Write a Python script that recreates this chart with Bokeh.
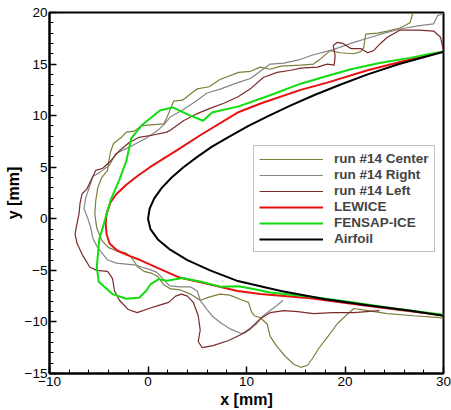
from bokeh.plotting import figure
from bokeh.models import Range1d, SingleIntervalTicker
from bokeh.embed import file_html
from bokeh.resources import INLINE

# ---- data (mm) ----
center_pts = [(26.9,20.0),(26.6,19.0),(25.6,18.5),(24.3,18.2),(23.3,18.0),(22.1,17.9),(21.9,16.6),(21.6,16.2),
              (20.9,16.0),(19.5,16.1),(18.5,16.3),(17.5,15.5),(16.8,15.0),(15.5,14.9),(13.5,14.8),(12.4,14.5),
              (11.4,14.7),(10.4,14.3),(9.2,14.2),(7.3,13.5),(6.2,12.8),(5.0,12.6),(3.5,11.5),(2.6,11.4),(2.0,10.0),
              (1.6,9.2),(0.3,9.1),(-0.7,9.0),(-1.4,8.5),(-2.2,8.4),(-2.7,7.9),(-3.5,7.3),(-3.8,6.5),(-4.0,5.5),
              (-4.1,4.7),(-4.7,4.0),(-5.1,3.0),(-5.3,1.8),(-5.4,0.5),(-5.2,-0.9),(-4.7,-2.1),(-4.0,-2.8),
              (-3.2,-3.1),(-2.3,-3.3),(-1.7,-3.7),(-1.1,-4.6),(-0.4,-5.1),(0.4,-5.3),(1.0,-5.6),(1.6,-6.4),
              (2.3,-6.8),(3.3,-6.9),(4.3,-7.3),(5.3,-7.9),(6.2,-7.6),(7.3,-7.3),(8.3,-7.4),(9.6,-7.9),(10.2,-8.1),
              (10.5,-9.0),(10.8,-9.4),(11.4,-9.6),(12.1,-10.2),(12.4,-11.4),(13.1,-12.4),(14.0,-13.4),(14.8,-14.1),
              (15.5,-14.4),(16.2,-14.2),(16.8,-13.4),(17.3,-12.6),(18.2,-11.5),(19.2,-10.2),(20.3,-9.2),(20.9,-8.7),
              (22.3,-8.9),(24.3,-9.2),(27.0,-9.4),(30.0,-9.6)]

right_pts = [(30.0,19.9),(29.4,19.7),(29.0,18.9),(27.4,18.7),(25.6,18.4),(24.0,18.0),(22.3,17.5),(20.9,17.1),
             (18.8,16.4),(16.8,15.9),(15.3,15.4),(13.8,15.1),(12.4,15.0),(11.4,14.3),(10.4,13.6),(9.1,13.2),
             (7.4,12.6),(6.0,12.2),(5.0,11.5),(3.6,10.6),(2.3,9.9),(1.6,9.1),(0.9,8.5),(-0.2,7.8),(-1.2,7.3),
             (-2.2,6.8),(-3.3,6.3),(-3.9,5.2),(-4.9,4.5),(-5.6,4.1),(-5.9,3.2),(-6.3,2.1),(-6.5,1.0),(-6.1,0.0),
             (-5.8,-0.9),(-5.6,-1.9),(-5.1,-2.8),(-4.6,-3.4),(-4.1,-4.0),(-3.2,-4.3),(-2.2,-4.4),(-1.2,-4.5),
             (-0.6,-4.7),(0.15,-4.9),(0.9,-5.2),(1.5,-5.8),(2.2,-6.5),(3.3,-6.6),(4.3,-6.6),(5.0,-7.0),(5.3,-7.9),
             (6.0,-8.8),(6.6,-9.5),(7.4,-10.1),(8.4,-10.7),(9.4,-11.1),(9.8,-11.1),(10.4,-10.7),(11.1,-10.1),
             (11.7,-9.4),(12.4,-8.9),(13.1,-8.4),(13.7,-7.9)]

left_pts = [(30.0,16.3),(29.7,17.6),(29.0,18.2),(27.5,18.3),(25.6,18.3),(24.3,17.6),(23.6,17.0),(22.9,16.3),
            (22.3,16.1),(21.6,16.5),(20.6,16.5),(19.8,17.0),(19.2,17.1),(18.8,16.8),(19.0,15.8),(18.9,14.9),
            (18.2,15.0),(17.2,14.7),(15.5,14.6),(14.5,14.4),(13.1,14.2),(11.7,13.7),(10.4,12.6),(9.1,11.8),
            (7.7,11.2),(6.3,10.7),(5.0,10.2),(3.6,9.5),(2.3,8.6),(1.9,8.4),(0.4,8.1),(-0.9,7.9),(-1.9,7.4),
            (-2.9,6.6),(-3.9,5.5),(-4.6,4.9),(-5.3,4.7),(-5.7,3.9),(-6.2,2.9),(-6.7,2.4),(-6.9,1.5),(-7.0,0.5),
            (-7.3,-0.9),(-7.4,-1.5),(-7.2,-2.4),(-6.6,-3.6),(-5.9,-4.7),(-5.2,-5.0),(-4.1,-5.1),(-3.6,-5.8),
            (-3.4,-7.0),(-2.9,-7.9),(-2.0,-8.8),(-1.1,-9.1),(0.1,-8.7),(1.1,-8.4),(2.1,-8.1),(2.8,-7.5),
            (3.4,-7.3),(4.0,-7.5),(4.6,-8.1),(5.1,-9.4),(5.3,-10.8),(5.1,-11.9),(5.5,-12.5),(6.6,-12.3),
            (8.2,-11.8),(9.5,-11.2),(10.4,-10.6),(11.4,-9.7),(12.4,-9.1),(13.8,-8.9),(15.2,-9.0),(16.8,-9.2),
            (18.8,-9.1),(20.9,-9.1),(23.5,-8.9)]

lewice_pts = [(30.0,16.2),(26.0,15.3),(22.3,14.4),(18.2,13.2),(15.5,12.5),(11.5,11.2),(9.1,10.3),(5.3,8.1),
              (3.2,6.8),(0.2,5.0),(-1.0,4.2),(-2.2,3.3),(-3.2,2.4),(-3.8,1.6),(-4.2,0.5),(-4.3,-0.5),(-4.2,-1.5),
              (-3.9,-2.4),(-3.1,-3.1),(-1.9,-3.6),(-0.8,-4.0),(2.0,-5.2),(3.2,-5.7),(6.0,-6.3),(9.1,-7.0),
              (11.4,-7.3),(16.5,-7.7),(22.0,-8.4),(26.0,-8.9),(30.0,-9.35)]

fensap_pts = [(30.0,16.2),(28.7,16.0),(26.6,15.6),(23.5,15.1),(20.6,14.5),(18.0,13.8),(15.5,13.1),(12.2,11.9),
              (9.2,10.9),(6.5,10.3),(5.6,9.5),(4.3,10.0),(2.5,10.8),(1.2,10.5),(-0.6,9.1),(-1.7,7.8),(-2.2,5.6),
              (-2.9,3.8),(-3.8,1.8),(-4.4,-0.2),(-4.95,-2.0),(-5.2,-4.7),(-5.0,-6.1),(-3.6,-7.3),(-2.2,-7.75),
              (-0.9,-7.65),(-0.2,-7.0),(0.3,-6.3),(1.1,-5.85),(1.9,-6.0),(3.5,-5.75),(5.4,-6.1),(7.4,-6.6),
              (9.2,-6.55),(10.7,-6.8),(12.4,-7.15),(16.5,-7.55),(20.0,-8.0),(25.0,-8.7),(30.0,-9.3)]

airfoil_pts = [(30.0,16.2),(25.5,15.0),(22.3,14.0),(19.5,13.0),(16.9,12.0),(14.5,11.0),(12.3,10.0),(10.2,9.0),
               (8.3,8.0),(6.5,7.0),(5.0,6.0),(3.6,5.0),(2.4,4.0),(1.4,3.0),(0.65,2.0),(0.17,1.0),(0.0,0.0),
               (0.25,-1.0),(1.0,-2.0),(2.25,-3.0),(4.0,-4.0),(6.3,-5.0),(9.0,-6.0),(13.5,-7.0),(18.0,-7.8),
               (22.5,-8.4),(26.5,-8.9),(30.0,-9.4)]

series = [
    ("run #14 Center", center_pts, "#7f7d3a", 1.2),
    ("run #14 Right", right_pts, "#858585", 1.2),
    ("run #14 Left", left_pts, "#7a2a2a", 1.2),
    ("LEWICE", lewice_pts, "#e81010", 2.0),
    ("FENSAP-ICE", fensap_pts, "#10dd10", 2.0),
    ("Airfoil", airfoil_pts, "#000000", 2.0),
]

FONT = "Liberation Sans"

p = figure(width=451, height=410, output_backend="svg", toolbar_location=None,
           x_range=Range1d(-10, 30), y_range=Range1d(-15, 20),
           min_border_left=49, min_border_right=8, min_border_top=12, min_border_bottom=37)
p.grid.visible = False
p.background_fill_color = "white"
p.border_fill_color = "white"
p.outline_line_color = "black"
p.outline_line_width = 2

for label, pts, color, w in series:
    xs = [a for a, b in pts]
    ys = [b for a, b in pts]
    p.line(xs, ys, line_color=color, line_width=w, legend_label=label)

p.xaxis.ticker = SingleIntervalTicker(interval=10, num_minor_ticks=5)
p.yaxis.ticker = SingleIntervalTicker(interval=5, num_minor_ticks=5)
for ax in (p.xaxis[0], p.yaxis[0]):
    ax.axis_line_width = 2
    ax.axis_line_color = "black"
    ax.major_tick_in = 7
    ax.major_tick_out = 0
    ax.minor_tick_in = 4
    ax.minor_tick_out = 0
    ax.major_tick_line_width = 1.5
    ax.minor_tick_line_width = 1
    ax.major_label_text_font = FONT
    ax.major_label_text_font_size = "13.5px"
    ax.major_label_text_color = "black"
    ax.axis_label_text_font = FONT
    ax.axis_label_text_font_size = "16px"
    ax.axis_label_text_font_style = "bold"
    ax.axis_label_text_color = "black"
p.xaxis.major_label_standoff = 3
p.xaxis.axis_label_standoff = 2
p.yaxis.major_label_standoff = 2
p.yaxis.axis_label_standoff = 0
p.xaxis.axis_label = "x [mm]"
p.yaxis.axis_label = "y [mm]"

lg = p.legend[0]
lg.location = (204, 121)
lg.border_line_color = "#808080"
lg.border_line_width = 1
lg.background_fill_color = "white"
lg.background_fill_alpha = 1
lg.label_text_font = FONT
lg.label_text_font_style = "bold"
lg.label_text_font_size = "13.5px"
lg.glyph_width = 64
lg.glyph_height = 14
lg.label_height = 14
lg.label_standoff = 11
lg.spacing = 1
lg.padding = 5
lg.margin = 0

open("out.html", "w").write(file_html(p, INLINE))
